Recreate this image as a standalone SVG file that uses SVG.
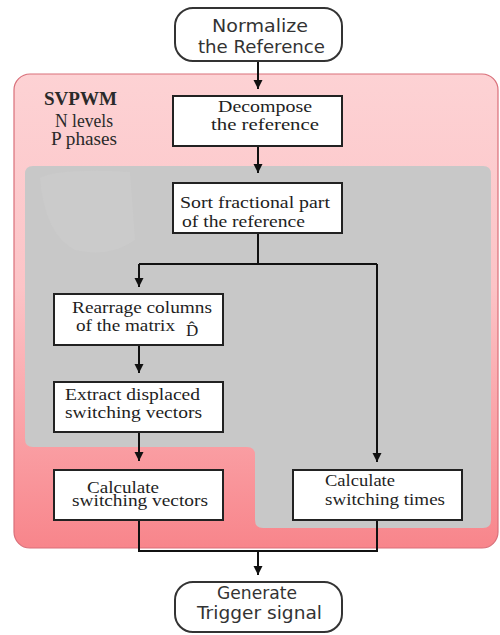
<svg xmlns="http://www.w3.org/2000/svg" width="500" height="635" viewBox="0 0 500 635">
<defs>
<linearGradient id="pinkGrad" x1="0" y1="0" x2="0" y2="1">
<stop offset="0" stop-color="#fdd2d4"/>
<stop offset="0.45" stop-color="#fcc4c7"/>
<stop offset="1" stop-color="#f8858b"/>
</linearGradient>
<marker id="arrow" markerWidth="10" markerHeight="10" refX="9" refY="5" orient="auto" markerUnits="userSpaceOnUse">
<path d="M0,0.5 L9,5 L0,9.5 Z" fill="#111"/>
</marker>
<style>
.box{fill:#ffffff;stroke:#222;stroke-width:2}
.term{fill:#ffffff;stroke:#333;stroke-width:2}
.serif{font-family:"Liberation Serif","Times New Roman",serif;font-size:17px;fill:#1e1e1e}
.sans{font-family:"DejaVu Sans","Liberation Sans",sans-serif;font-size:17px;fill:#333}
.conn{fill:none;stroke:#111;stroke-width:2}
.title{font-family:"Liberation Serif","Times New Roman",serif;fill:#2a2a2a}
</style>
</defs>
<rect width="500" height="635" fill="#ffffff"/>
<g id="svpwm-container">
<rect x="14" y="74" width="484" height="474" rx="16" fill="url(#pinkGrad)" stroke="#d9707a" stroke-width="1.2"/>
<path d="M33 166 H483 Q491 166 491 174 V520 Q491 528 483 528 H263 Q255 528 255 520 V455 Q255 447 247 447 H33 Q25 447 25 439 V174 Q25 166 33 166 Z" fill="#c8c8c8"/>
<path d="M40 178 Q60 168 130 172 L135 240 Q110 258 75 250 Q45 235 40 178 Z" fill="#cbcbcb"/>
<text class="title" x="44" y="105" font-size="19" font-weight="bold" fill="#1a1a1a" textLength="73" lengthAdjust="spacingAndGlyphs">SVPWM</text>
<text class="title" x="55" y="127" font-size="18" textLength="58" lengthAdjust="spacingAndGlyphs">N levels</text>
<text class="title" x="51" y="145" font-size="18" textLength="66" lengthAdjust="spacingAndGlyphs">P phases</text>
</g>
<g id="connectors">
<line class="conn" x1="258" y1="62" x2="258" y2="89" marker-end="url(#arrow)"/>
<line class="conn" x1="258" y1="147" x2="258" y2="173" marker-end="url(#arrow)"/>
<polyline class="conn" points="258,234 258,264"/>
<polyline class="conn" points="139,264 377,264"/>
<line class="conn" x1="139" y1="264" x2="139" y2="287" marker-end="url(#arrow)"/>
<line class="conn" x1="377" y1="264" x2="377" y2="462" marker-end="url(#arrow)"/>
<line class="conn" x1="139" y1="346" x2="139" y2="373" marker-end="url(#arrow)"/>
<line class="conn" x1="139" y1="433" x2="139" y2="461" marker-end="url(#arrow)"/>
<polyline class="conn" points="139,521 139,551 377,551 377,521"/>
<line class="conn" x1="258" y1="551" x2="258" y2="575" marker-end="url(#arrow)"/>
</g>
<g id="normalize">
<rect class="term" x="175" y="8" width="167" height="53" rx="18"/>
<text class="sans" x="212" y="32" textLength="96" lengthAdjust="spacingAndGlyphs">Normalize</text>
<text class="sans" x="198" y="53" textLength="127" lengthAdjust="spacingAndGlyphs">the Reference</text>
</g>
<g id="decompose">
<rect class="box" x="173" y="96" width="169" height="50"/>
<text class="serif" x="218" y="112" textLength="94" lengthAdjust="spacingAndGlyphs">Decompose</text>
<text class="serif" x="211" y="130" textLength="108" lengthAdjust="spacingAndGlyphs">the reference</text>
</g>
<g id="sort">
<rect class="box" x="173" y="183" width="169" height="50"/>
<text class="serif" x="180" y="208" textLength="150" lengthAdjust="spacingAndGlyphs">Sort  fractional part</text>
<text class="serif" x="182" y="227" textLength="123" lengthAdjust="spacingAndGlyphs">of the reference</text>
</g>
<g id="rearrange">
<rect class="box" x="54" y="294" width="169" height="51"/>
<text class="serif" x="72" y="313" textLength="140" lengthAdjust="spacingAndGlyphs">Rearrage columns</text>
<text class="serif" x="76" y="331" textLength="99" lengthAdjust="spacingAndGlyphs">of the matrix</text>
<text class="serif" x="186" y="336">D̂</text>
</g>
<g id="extract">
<rect class="box" x="54" y="382" width="169" height="50"/>
<text class="serif" x="65" y="400" textLength="135" lengthAdjust="spacingAndGlyphs">Extract displaced</text>
<text class="serif" x="65" y="418" textLength="137" lengthAdjust="spacingAndGlyphs">switching vectors</text>
</g>
<g id="calc-vectors">
<rect class="box" x="54" y="470" width="169" height="50"/>
<text class="serif" x="87" y="493" textLength="72" lengthAdjust="spacingAndGlyphs">Calculate</text>
<text class="serif" x="72" y="506" textLength="136" lengthAdjust="spacingAndGlyphs">switching vectors</text>
</g>
<g id="calc-times">
<rect class="box" x="293" y="470" width="169" height="50"/>
<text class="serif" x="325" y="486" textLength="70" lengthAdjust="spacingAndGlyphs">Calculate</text>
<text class="serif" x="325" y="505" textLength="120" lengthAdjust="spacingAndGlyphs">switching times</text>
</g>
<g id="generate">
<rect class="term" x="175" y="582" width="167" height="50" rx="18"/>
<text class="sans" x="217" y="599" textLength="80" lengthAdjust="spacingAndGlyphs">Generate</text>
<text class="sans" x="197" y="619" textLength="125" lengthAdjust="spacingAndGlyphs">Trigger signal</text>
</g>
</svg>
